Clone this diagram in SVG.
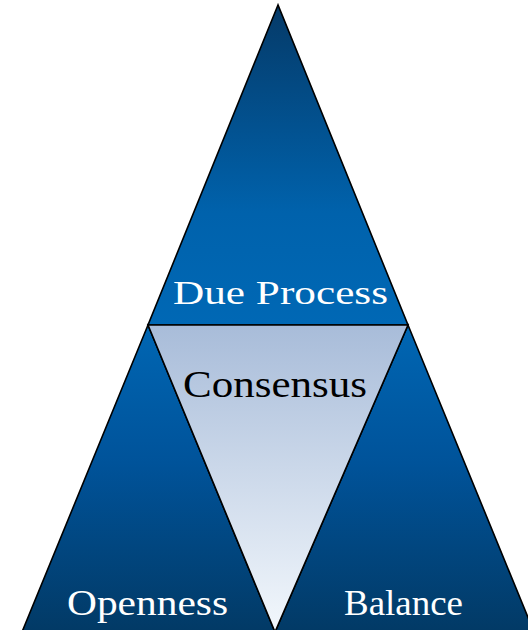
<svg xmlns="http://www.w3.org/2000/svg" width="528" height="630" viewBox="0 0 528 630">
  <style>
    .tri { stroke: #000; stroke-width: 1.6; stroke-linejoin: miter; }
    .lbl { font-family: "Liberation Serif", "Times New Roman", serif; }
    .light { fill: #ffffff; }
    .dark { fill: #000000; }
  </style>
  <defs>
    <linearGradient id="gTop" x1="0" y1="5" x2="0" y2="325" gradientUnits="userSpaceOnUse">
      <stop offset="0" stop-color="#053a68"/>
      <stop offset="0.65" stop-color="#0062ac"/>
      <stop offset="1" stop-color="#0068b5"/>
    </linearGradient>
    <linearGradient id="gLow" x1="0" y1="325" x2="0" y2="630" gradientUnits="userSpaceOnUse">
      <stop offset="0" stop-color="#0066b3"/>
      <stop offset="0.45" stop-color="#00539a"/>
      <stop offset="1" stop-color="#023a66"/>
    </linearGradient>
    <linearGradient id="gMid" x1="0" y1="325" x2="0" y2="630" gradientUnits="userSpaceOnUse">
      <stop offset="0" stop-color="#a8bcd9"/>
      <stop offset="1" stop-color="#f2f7fc"/>
    </linearGradient>
  </defs>
  <rect width="528" height="630" fill="#ffffff"/>

  <g id="due-process">
    <polygon class="tri" points="278,5 148,325 408,325" fill="url(#gTop)"/>
    <text class="lbl light" x="173" y="304" font-size="34" textLength="215" lengthAdjust="spacingAndGlyphs">Due Process</text>
  </g>

  <g id="openness">
    <polygon class="tri" points="148,325 22,632 275,632" fill="url(#gLow)"/>
    <text class="lbl light" x="67" y="615" font-size="35" textLength="161" lengthAdjust="spacingAndGlyphs">Openness</text>
  </g>

  <g id="balance">
    <polygon class="tri" points="408,325 275,632 534,632" fill="url(#gLow)"/>
    <text class="lbl light" x="344" y="615" font-size="35" textLength="119" lengthAdjust="spacingAndGlyphs">Balance</text>
  </g>

  <g id="consensus">
    <polygon class="tri" points="148,325 408,325 275,632" fill="url(#gMid)"/>
    <text class="lbl dark" x="183" y="397" font-size="38" textLength="184" lengthAdjust="spacingAndGlyphs">Consensus</text>
  </g>

  <g id="connectors"/>
</svg>
